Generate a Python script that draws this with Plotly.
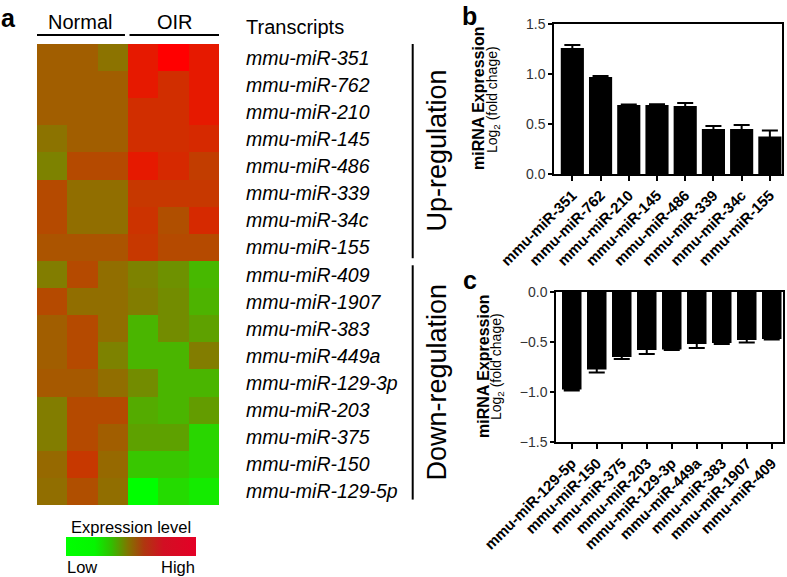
import plotly.graph_objects as go

W, H = 787, 577
def X(px): return px / W
def Y(py): return 1 - py / H

FONT = "Arial, 'Liberation Sans', sans-serif"

# ---------------- data ----------------
mirnas = ["mmu-miR-351", "mmu-miR-762", "mmu-miR-210", "mmu-miR-145", "mmu-miR-486",
          "mmu-miR-339", "mmu-miR-34c", "mmu-miR-155", "mmu-miR-409", "mmu-miR-1907",
          "mmu-miR-383", "mmu-miR-449a", "mmu-miR-129-3p", "mmu-miR-203", "mmu-miR-375",
          "mmu-miR-150", "mmu-miR-129-5p"]
samples = ["Normal-1", "Normal-2", "Normal-3", "OIR-1", "OIR-2", "OIR-3"]
expression = [
    [0.63, 0.63, 0.55, 0.90, 1.00, 0.90],
    [0.63, 0.63, 0.63, 0.90, 0.82, 0.90],
    [0.63, 0.63, 0.63, 0.82, 0.82, 0.90],
    [0.55, 0.63, 0.63, 0.82, 0.82, 0.84],
    [0.49, 0.71, 0.71, 0.90, 0.84, 0.76],
    [0.71, 0.57, 0.57, 0.78, 0.78, 0.78],
    [0.71, 0.57, 0.57, 0.80, 0.69, 0.84],
    [0.67, 0.67, 0.67, 0.78, 0.71, 0.71],
    [0.51, 0.71, 0.57, 0.49, 0.43, 0.28],
    [0.71, 0.57, 0.57, 0.51, 0.45, 0.30],
    [0.63, 0.71, 0.57, 0.29, 0.45, 0.37],
    [0.63, 0.71, 0.49, 0.29, 0.29, 0.51],
    [0.65, 0.65, 0.57, 0.45, 0.29, 0.29],
    [0.51, 0.71, 0.71, 0.33, 0.29, 0.39],
    [0.51, 0.71, 0.63, 0.37, 0.37, 0.16],
    [0.59, 0.78, 0.59, 0.22, 0.22, 0.16],
    [0.57, 0.69, 0.57, 0.00, 0.14, 0.08],
]

up_labels = ["mmu-miR-351", "mmu-miR-762", "mmu-miR-210", "mmu-miR-145",
             "mmu-miR-486", "mmu-miR-339", "mmu-miR-34c", "mmu-miR-155"]
up_values = [1.26, 0.97, 0.69, 0.69, 0.68, 0.45, 0.45, 0.375]
up_errors = [0.03, 0.01, 0.004, 0.008, 0.03, 0.03, 0.04, 0.06]

down_labels = ["mmu-miR-129-5p", "mmu-miR-150", "mmu-miR-375", "mmu-miR-203", "mmu-miR-129-3p",
               "mmu-miR-449a", "mmu-miR-383", "mmu-miR-1907", "mmu-miR-409"]
down_values = [-0.975, -0.775, -0.65, -0.58, -0.575, -0.52, -0.51, -0.48, -0.47]
down_errors = [0.01, 0.03, 0.02, 0.04, 0.005, 0.04, 0.01, 0.025, 0.005]

heat_scale = [[0, "rgb(0,255,0)"], [1, "rgb(255,0,0)"]]
legend_scale = [[0, "rgb(0,255,0)"], [0.22, "rgb(5,245,0)"], [0.35, "rgb(50,190,0)"],
                [0.48, "rgb(130,115,0)"], [0.6, "rgb(175,55,15)"], [0.75, "rgb(210,15,35)"],
                [1, "rgb(228,0,38)"]]

fig = go.Figure()

fig.add_trace(go.Heatmap(z=expression, x=samples, y=mirnas, colorscale=heat_scale,
                         zmin=0, zmax=1, showscale=False, xaxis="x", yaxis="y"))

# colour legend
fig.add_trace(go.Scatter(x=[None, None], y=[None, None], mode="markers", showlegend=False,
                         hoverinfo="skip", xaxis="x", yaxis="y",
                         marker=dict(color=[0, 1], cmin=0, cmax=1, colorscale=legend_scale,
                                     showscale=True,
                                     colorbar=dict(orientation="h", x=X(131), xanchor="center",
                                                   y=Y(537), yanchor="top", len=130, lenmode="pixels",
                                                   thickness=19, thicknessmode="pixels",
                                                   xpad=0, ypad=0, outlinewidth=0,
                                                   showticklabels=False, ticks=""))))

fig.add_trace(go.Bar(x=up_labels, y=up_values, marker=dict(color="black", line=dict(width=0)),
                     width=0.82, error_y=dict(type="data", array=up_errors, color="black",
                                              thickness=2, width=8),
                     xaxis="x2", yaxis="y2", showlegend=False))
fig.add_trace(go.Bar(x=down_labels, y=down_values, marker=dict(color="black", line=dict(width=0)),
                     width=0.78, error_y=dict(type="data", array=down_errors, color="black",
                                              thickness=2, width=8),
                     xaxis="x3", yaxis="y3", showlegend=False))

bar_x = dict(showline=True, linecolor="black", linewidth=1.5, mirror=True, ticks="outside",
             ticklen=5, tickwidth=1.5, tickcolor="black", tickangle=-45, automargin=False,
             tickfont=dict(size=15, family=FONT, color="black", weight="bold"), showgrid=False,
             zeroline=False)
bar_y = dict(showline=True, linecolor="black", linewidth=1.5, mirror=True, ticks="outside",
             ticklen=4, tickwidth=1.5, tickcolor="black", tickformat=".1f", dtick=0.5,
             automargin=False,
             tickfont=dict(size=14, family=FONT, color="#333"), showgrid=False, zeroline=False)

fig.update_layout(
    width=W, height=H, margin=dict(l=0, r=0, t=0, b=0, autoexpand=False), paper_bgcolor="white",
    plot_bgcolor="white", font=dict(family=FONT, color="black"),
    xaxis=dict(domain=[X(36), X(220)], visible=False, anchor="y", automargin=False),
    yaxis=dict(domain=[Y(505), Y(43)], visible=False, autorange="reversed", anchor="x",
               automargin=False),
    xaxis2=dict(domain=[X(554), X(782)], range=[-0.65, 7.43], anchor="y2", **bar_x),
    yaxis2=dict(domain=[Y(174), Y(24)], range=[0, 1.5], anchor="x2", **bar_y),
    xaxis3=dict(domain=[X(556), X(783)], range=[-0.63, 8.45], anchor="y3", **bar_x),
    yaxis3=dict(domain=[Y(442), Y(292)], range=[-1.5, 0], anchor="x3", **bar_y),
)

ann = []
def txt(text, x, y, size, xanchor="center", angle=0, bold=False, italic=False, xref="paper", yref="paper"):
    t = text
    if italic: t = "<i>" + t + "</i>"
    ann.append(dict(text=t, x=x, y=y, xref=xref, yref=yref, xanchor=xanchor, yanchor="middle",
                    showarrow=False, textangle=angle,
                    font=dict(size=size, family=FONT, color="black", weight="bold" if bold else "normal")))

txt("a", X(8), Y(18), 25, bold=True)
txt("b", X(469), Y(16), 25, bold=True)
txt("c", X(470), Y(280), 25, bold=True)
txt("Normal", X(80), Y(22), 20)
txt("OIR", X(175), Y(22), 20)
txt("Transcripts", X(244), Y(27), 20, xanchor="left")
for m in mirnas:
    txt(m, X(244), m, 19.5, xanchor="left", italic=True, yref="y")
txt("Up-regulation", X(436), (Y(43) + Y(258)) / 2, 27, angle=-90)
txt("Down-regulation", X(436), (Y(265) + Y(500)) / 2, 27, angle=-90)
txt("miRNA Expression", X(478), Y(99), 16, angle=-90, bold=True)
txt("Log<sub>2</sub> (fold chage)", X(493), Y(99), 14, angle=-90)
txt("miRNA Expression", X(483), Y(367), 16, angle=-90, bold=True)
txt("Log<sub>2</sub> (fold chage)", X(497), Y(367), 14, angle=-90)
txt("Expression level", X(131), Y(527), 16.5)
txt("Low", X(65), Y(567), 16.5, xanchor="left")
txt("High", X(197), Y(567), 16.5, xanchor="right")
fig.update_layout(annotations=ann)

shapes = [
    dict(type="line", xref="x", yref="paper", x0=-0.5, x1=2.4, y0=Y(35), y1=Y(35),
         line=dict(color="black", width=2)),
    dict(type="line", xref="x", yref="paper", x0=2.55, x1=5.5, y0=Y(35), y1=Y(35),
         line=dict(color="black", width=2)),
    dict(type="line", xref="paper", yref="y", x0=X(412.7), x1=X(412.7), y0=-0.5, y1=7.4,
         line=dict(color="black", width=2)),
    dict(type="line", xref="paper", yref="y", x0=X(412.7), x1=X(412.7), y0=7.66, y1=16.3,
         line=dict(color="black", width=2)),
]
fig.update_layout(shapes=shapes)

fig.write_html("out.html", config={"displayModeBar": False},
               post_script="document.body.style.margin='0px';")
